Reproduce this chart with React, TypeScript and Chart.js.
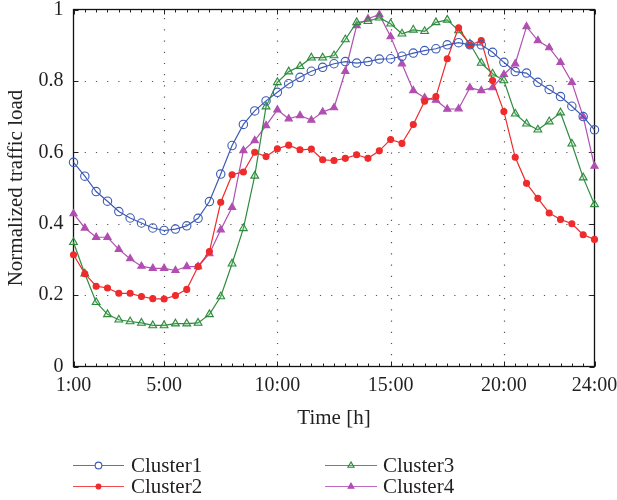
import React, { useEffect, useRef } from 'react';
import { Chart, registerables } from 'chart.js';

Chart.register(...registerables);

// ---- data ----
const hours = [
  1, 1.5, 2, 2.5, 3, 3.5, 4, 4.5, 5, 5.5, 6, 6.5, 7, 7.5, 8, 8.5, 9, 9.5, 10, 10.5,
  11, 11.5, 12, 12.5, 13, 13.5, 14, 14.5, 15, 15.5, 16, 16.5, 17, 17.5, 18, 18.5,
  19, 19.5, 20, 20.5, 21, 21.5, 22, 22.5, 23, 23.5, 24,
];
const xTickHours = [1, 5, 10, 15, 20, 24];
const yTickValues = [0, 0.2, 0.4, 0.6, 0.8, 1];
const yGridValues = [0.2, 0.4, 0.6, 0.8];
const xGridHours = [5, 10, 15, 20];

const cluster1 = [
  0.572, 0.533, 0.49, 0.463, 0.434, 0.416, 0.402, 0.388, 0.381, 0.385, 0.394, 0.415,
  0.462, 0.539, 0.619, 0.678, 0.716, 0.744, 0.768, 0.792, 0.81, 0.827, 0.838, 0.848,
  0.854, 0.85, 0.854, 0.861, 0.862, 0.869, 0.878, 0.885, 0.89, 0.901, 0.907, 0.901,
  0.901, 0.88, 0.852, 0.826, 0.822, 0.796, 0.776, 0.756, 0.729, 0.7, 0.663,
];
const cluster2 = [
  0.313, 0.26, 0.225, 0.22, 0.205, 0.205, 0.196, 0.19, 0.189, 0.199, 0.216, 0.28,
  0.322, 0.46, 0.537, 0.545, 0.6, 0.588, 0.61, 0.62, 0.607, 0.609, 0.579, 0.577,
  0.583, 0.593, 0.583, 0.604, 0.636, 0.625, 0.678, 0.743, 0.756, 0.862, 0.949, 0.9,
  0.913, 0.801, 0.714, 0.586, 0.513, 0.471, 0.43, 0.412, 0.4, 0.369, 0.356,
];
const cluster3 = [
  0.348, 0.26, 0.18, 0.146, 0.131, 0.126, 0.122, 0.115, 0.115, 0.12, 0.12, 0.122,
  0.146, 0.196, 0.288, 0.387, 0.534, 0.728, 0.796, 0.826, 0.841, 0.865, 0.865, 0.871,
  0.916, 0.964, 0.967, 0.977, 0.96, 0.932, 0.943, 0.939, 0.964, 0.971, 0.941, 0.904,
  0.85, 0.82, 0.801, 0.708, 0.68, 0.663, 0.686, 0.711, 0.624, 0.529, 0.454,
];
const cluster4 = [
  0.428, 0.388, 0.362, 0.362, 0.328, 0.302, 0.281, 0.275, 0.275, 0.269, 0.28, 0.28,
  0.316, 0.383, 0.446, 0.605, 0.633, 0.675, 0.719, 0.694, 0.703, 0.69, 0.713, 0.725,
  0.827, 0.955, 0.974, 0.986, 0.924, 0.848, 0.773, 0.753, 0.746, 0.721, 0.722, 0.781,
  0.773, 0.781, 0.818, 0.848, 0.952, 0.913, 0.893, 0.852, 0.796, 0.7, 0.561,
];
const seriesNames = ['Cluster1', 'Cluster2', 'Cluster3', 'Cluster4'];
const seriesValues = [cluster1, cluster2, cluster3, cluster4];

// ---- styles ----
const FONT = '"Liberation Serif", "DejaVu Serif", "Times New Roman", serif';
const TEXT = '#231f20';
const styles = [
  { color: '#3d5bb5', fill: 'rgba(0,0,0,0)', shape: 'circle', r: 4.2 },
  { color: '#ef2b2b', fill: '#ef2b2b', shape: 'circle', r: 3 },
  { color: '#2e8b3e', fill: 'rgba(120,200,130,0.25)', shape: 'triangle', r: 4.5 },
  { color: '#b14fb1', fill: '#b14fb1', shape: 'triangle', r: 4.2 },
];

function drawMarker(ctx: CanvasRenderingContext2D, shape: string, x: number, y: number, r: number, stroke: string, fill: string) {
  ctx.beginPath();
  if (shape === 'circle') {
    ctx.arc(x, y, r, 0, Math.PI * 2);
  } else {
    const h = r * 1.5;
    const s = r * Math.sqrt(3);
    ctx.moveTo(x, y - r);
    ctx.lineTo(x - s / 2, y - r + h);
    ctx.lineTo(x + s / 2, y - r + h);
    ctx.closePath();
  }
  ctx.fillStyle = fill;
  ctx.fill();
  ctx.strokeStyle = stroke;
  ctx.lineWidth = 1.1;
  ctx.stroke();
}

const framePlugin = {
  id: 'frame',
  beforeDatasetsDraw(chart: any) {
    const { ctx, chartArea: a, scales } = chart;
    const x = scales.x;
    const y = scales.y;
    ctx.save();
    // dotted grid
    ctx.strokeStyle = '#555';
    ctx.lineWidth = 1.2;
    ctx.setLineDash([1.2, 10]);
    for (const v of yGridValues) {
      const py = Math.round(y.getPixelForValue(v)) + 0.5;
      ctx.beginPath();
      ctx.moveTo(a.left, py);
      ctx.lineTo(a.right, py);
      ctx.stroke();
    }
    for (const h of xGridHours) {
      const px = Math.round(x.getPixelForValue(h)) + 0.5;
      ctx.beginPath();
      ctx.moveTo(px, a.bottom);
      ctx.lineTo(px, a.top);
      ctx.stroke();
    }
    ctx.setLineDash([]);
    // ticks
    ctx.strokeStyle = '#222';
    ctx.lineWidth = 1;
    for (const h of hours) {
      const px = Math.round(x.getPixelForValue(h)) + 0.5;
      const len = xTickHours.includes(h) ? 5 : 3;
      ctx.beginPath();
      ctx.moveTo(px, a.bottom);
      ctx.lineTo(px, a.bottom - len);
      ctx.moveTo(px, a.top);
      ctx.lineTo(px, a.top + len);
      ctx.stroke();
    }
    for (const v of yTickValues) {
      const py = Math.round(y.getPixelForValue(v)) + 0.5;
      ctx.beginPath();
      ctx.moveTo(a.left, py);
      ctx.lineTo(a.left + 5, py);
      ctx.moveTo(a.right, py);
      ctx.lineTo(a.right - 5, py);
      ctx.stroke();
    }
    // frame
    ctx.strokeStyle = '#111';
    ctx.lineWidth = 1.3;
    ctx.strokeRect(a.left, a.top, a.right - a.left, a.bottom - a.top);
    ctx.restore();
  },
  afterDraw(chart: any) {
    const { ctx } = chart;
    const cols = [
      { x0: 73, x1: 124, tx: 131 },
      { x0: 325, x1: 377, tx: 383 },
    ];
    const rows = [465, 486];
    ctx.save();
    seriesNames.forEach((name, i) => {
      const col = cols[Math.floor(i / 2)];
      const yy = rows[i % 2];
      const st = styles[i];
      ctx.strokeStyle = st.color;
      ctx.globalAlpha = 0.85;
      ctx.lineWidth = 1.2;
      ctx.beginPath();
      ctx.moveTo(col.x0, yy + 0.5);
      ctx.lineTo(col.x1, yy + 0.5);
      ctx.stroke();
      ctx.globalAlpha = 1;
      drawMarker(ctx, st.shape, (col.x0 + col.x1) / 2, yy + 0.5, st.r * 0.8, st.color, st.fill === 'rgba(0,0,0,0)' ? '#fff' : st.fill);
      ctx.fillStyle = TEXT;
      ctx.font = `21px ${FONT}`;
      ctx.textBaseline = 'middle';
      ctx.textAlign = 'left';
      ctx.fillText(name, col.tx, yy + 1);
    });
    ctx.restore();
  },
};

export default function App() {
  const canvasRef = useRef<HTMLCanvasElement | null>(null);

  useEffect(() => {
    const canvas = canvasRef.current;
    if (!canvas) return;
    const datasets = seriesNames.map((name, i) => ({
      label: name,
      data: hours.map((h, k) => ({ x: h, y: seriesValues[i][k] })),
      borderColor: styles[i].color,
      backgroundColor: styles[i].fill,
      pointBackgroundColor: styles[i].fill,
      pointBorderColor: styles[i].color,
      pointStyle: styles[i].shape,
      pointRadius: styles[i].r,
      pointBorderWidth: 1.1,
      borderWidth: 1.2,
      tension: 0,
      fill: false,
      clip: false,
    }));

    const chart = new Chart(canvas, {
      type: 'line',
      data: { datasets },
      options: {
        animation: false,
        responsive: false,
        maintainAspectRatio: false,
        layout: { padding: { left: 0, right: 22.5, top: 9.5, bottom: 0 } },
        plugins: { legend: { display: false }, tooltip: { enabled: false } },
        scales: {
          x: {
            type: 'linear',
            min: 1,
            max: 24,
            grid: { display: false, drawTicks: false },
            border: { display: false },
            afterBuildTicks: (scale: any) => {
              scale.ticks = xTickHours.map((v) => ({ value: v }));
            },
            afterFit: (scale: any) => {
              scale.height = 133.5;
              scale.paddingLeft = 0;
              scale.paddingRight = 0;
            },
            ticks: {
              autoSkip: false,
              maxRotation: 0,
              padding: 7,
              color: TEXT,
              font: { family: FONT, size: 20 },
              callback: (v: any) => `${v}:00`,
            },
            title: {
              display: true,
              text: 'Time [h]',
              color: TEXT,
              font: { family: FONT, size: 21 },
              padding: { top: 0, bottom: 69 },
            },
          },
          y: {
            min: 0,
            max: 1,
            grid: { display: false, drawTicks: false },
            border: { display: false },
            afterBuildTicks: (scale: any) => {
              scale.ticks = yTickValues.map((v) => ({ value: v }));
            },
            afterFit: (scale: any) => {
              scale.width = 73.5;
              scale.paddingTop = 0;
              scale.paddingBottom = 0;
            },
            ticks: {
              padding: 10,
              color: TEXT,
              font: { family: FONT, size: 20 },
              callback: (v: any) => (v === 0 ? '0' : v === 1 ? '1' : Number(v).toFixed(1)),
            },
            title: {
              display: true,
              text: 'Normalized traffic load',
              color: TEXT,
              font: { family: FONT, size: 21 },
              padding: { top: 3.5, bottom: 0 },
            },
          },
        },
      },
      plugins: [framePlugin],
    });
    return () => chart.destroy();
  }, []);

  return (
    <div style={{ position: 'absolute', left: 0, top: 0, width: 617, height: 500, background: '#fff' }}>
      <canvas ref={canvasRef} width={617} height={500} style={{ display: 'block' }} />
    </div>
  );
}
